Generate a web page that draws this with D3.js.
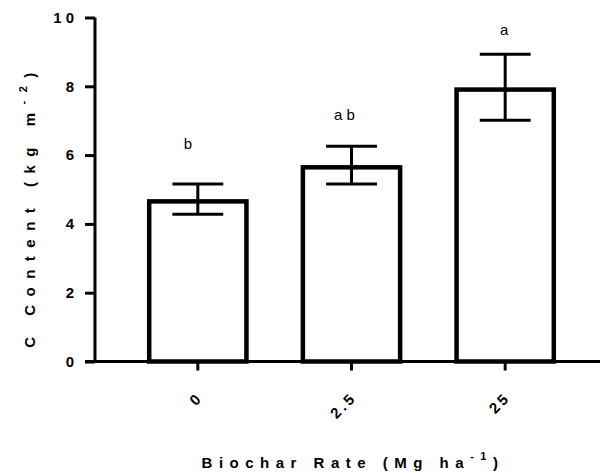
<!DOCTYPE html>
<html>
<head>
<meta charset="utf-8">
<script src="https://cdn.jsdelivr.net/npm/d3@7"></script>
<style>
  html, body { margin: 0; padding: 0; background: #fff; }
  svg { display: block; }
  text { font-family: Arial, "Liberation Sans", sans-serif; fill: #000; }
</style>
</head>
<body>
<svg id="chart" width="600" height="473"></svg>
<script>
// Biochar application rate vs. soil carbon content
const categories = ["0", "2.5", "25"];
const means = [4.72, 5.71, 7.97];
const errors = [0.44, 0.55, 0.96];
const groupLetters = ["b", "a b", "a"];
const letterLevels = [6.3, 7.15, 9.6];   // height (kg m-2) at which each letter sits
const yTicks = [0, 2, 4, 6, 8, 10];

const svg = d3.select("#chart");

const x = d3.scaleBand()
  .domain(categories)
  .range([95, 608])
  .padding(0.338);

const y = d3.scaleLinear()
  .domain([0, 10])
  .range([361.5, 17.5]);

const barStroke = 4.5;
const axisStroke = 3;

// Bars (stroke kept inside the bar outline)
svg.append("g")
  .selectAll("rect")
  .data(categories)
  .join("rect")
  .attr("x", (d) => x(d) + barStroke / 2)
  .attr("y", (d, i) => y(means[i]) + barStroke / 2)
  .attr("width", x.bandwidth() - barStroke)
  .attr("height", (d, i) => y(0) - y(means[i]) - barStroke / 2)
  .attr("fill", "#fff")
  .attr("stroke", "#000")
  .attr("stroke-width", barStroke);

// Error bars
const capHalf = x.bandwidth() / 4;
const eb = svg.append("g").attr("stroke", "#000").attr("stroke-width", 3);
categories.forEach((c, i) => {
  const cx = x(c) + x.bandwidth() / 2;
  const hi = y(means[i] + errors[i]);
  const lo = y(means[i] - errors[i]);
  eb.append("line").attr("x1", cx).attr("x2", cx).attr("y1", hi).attr("y2", lo);
  eb.append("line").attr("x1", cx - capHalf).attr("x2", cx + capHalf).attr("y1", hi).attr("y2", hi);
  eb.append("line").attr("x1", cx - capHalf).attr("x2", cx + capHalf).attr("y1", lo).attr("y2", lo);
});

// Significance letters (nudged left by a few pixels, as placed by hand)
const letterNudge = [-10, -7, -1];
svg.append("g")
  .selectAll("text")
  .data(categories)
  .join("text")
  .attr("x", (d, i) => x(d) + x.bandwidth() / 2 + letterNudge[i])
  .attr("y", (d, i) => y(letterLevels[i]))
  .attr("text-anchor", "middle")
  .attr("dominant-baseline", "middle")
  .style("font-size", "15px")
  .text((d, i) => groupLetters[i]);

// Y axis
const yAxis = svg.append("g")
  .attr("transform", "translate(95,0)")
  .call(d3.axisLeft(y).tickValues(yTicks).tickSize(10).tickPadding(10).tickFormat(d3.format("d")));
yAxis.select(".domain").attr("stroke-width", axisStroke).attr("d", `M0,${y(10)}V${y(0)}`);
yAxis.selectAll(".tick line").attr("stroke-width", axisStroke);
yAxis.selectAll(".tick text")
  .style("font-size", "15px")
  .style("font-weight", "bold")
  .style("letter-spacing", "4px")
  .attr("dx", "3px");

// X axis
const xAxis = svg.append("g")
  .attr("transform", `translate(0,${y(0)})`)
  .call(d3.axisBottom(x).tickSize(9).tickSizeOuter(0));
xAxis.select(".domain").attr("stroke-width", axisStroke).attr("d", "M85,0H600");
xAxis.selectAll(".tick line").attr("stroke-width", axisStroke);
xAxis.selectAll(".tick text")
  .attr("text-anchor", "end")
  .attr("dy", null)
  .attr("y", 0)
  .attr("transform", "translate(6,37) rotate(-45)")
  .style("font-size", "15px")
  .style("font-weight", "bold")
  .style("letter-spacing", "3px");

// Axis titles
const yTitle = svg.append("text")
  .attr("transform", "translate(35,206) rotate(-90)")
  .attr("text-anchor", "middle")
  .style("font-size", "15px")
  .style("font-weight", "bold")
  .style("letter-spacing", "8.5px");
yTitle.append("tspan").text("C Content (kg m");
yTitle.append("tspan").attr("dy", -8).style("font-size", "11px").text("-2");
yTitle.append("tspan").attr("dy", 8).text(")");

const xTitle = svg.append("text")
  .attr("transform", "translate(353,468)")
  .attr("text-anchor", "middle")
  .style("font-size", "15px")
  .style("font-weight", "bold")
  .style("letter-spacing", "6.5px");
xTitle.append("tspan").text("Biochar Rate (Mg ha");
xTitle.append("tspan").attr("dy", -8).style("font-size", "11px").text("-1");
xTitle.append("tspan").attr("dy", 8).text(")");
</script>
</body>
</html>
